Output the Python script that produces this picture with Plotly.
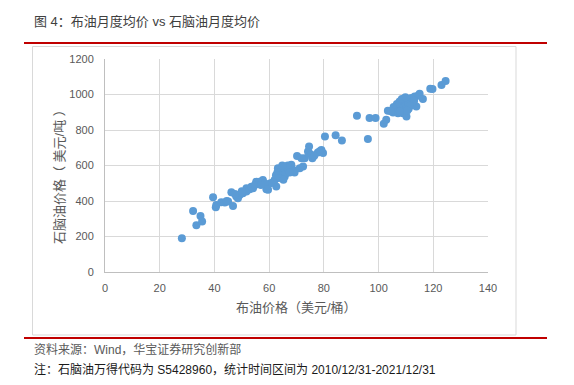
import plotly.graph_objects as go

# Brent monthly average (USD/bbl) vs naphtha monthly average (USD/t)
brent = [
    # high-price cluster (2011-2014)
    92.1, 96.7, 98.9, 96.1, 101.9, 102.8, 103.4, 105.3, 106.7, 107.1,
    107.7, 108.9, 109.5, 110.2, 108.3, 108.9, 110.2, 111.4, 112.0, 113.2,
    113.8, 114.4, 115.0, 116.2, 118.9, 119.7, 123.0, 124.5, 105.5, 106.2,
    107.5, 108.0, 109.0, 110.0, 110.8, 111.0, 112.5, 113.0, 108.5, 109.8,
    104.5, 107.8, 111.5, 110.5,
    # 80-90
    80.4, 84.3, 86.6,
    # 70-80
    70.2, 72.4, 73.0, 74.2, 74.6, 74.6, 75.4, 75.8, 77.8, 79.1,
    79.7, 71.8, 78.5, 76.5,
    # 60-70
    59.6, 62.0, 62.6, 63.2, 63.9, 65.7, 66.3, 68.1, 68.1, 68.7,
    69.3, 71.2, 63.0, 64.5, 65.0, 64.0, 66.0, 67.0, 62.5, 63.5,
    65.2, 61.5, 60.5, 66.8, 64.8, 67.5,
    # 40-60
    39.5, 40.5, 40.7, 42.5, 43.8, 45.0, 46.2, 46.8, 48.0, 48.6,
    49.2, 50.4, 51.7, 51.7, 52.9, 54.1, 55.3, 55.3, 56.5, 56.5,
    57.7, 58.4, 59.0, 53.5, 47.5, 44.5, 50.0, 54.8, 57.0,
    # below 40
    28.1, 32.2, 33.4, 34.9, 35.5,
]
naphtha = [
    880, 867, 867, 749, 835, 858, 908, 899, 946, 895,
    961, 952, 966, 974, 914, 895, 876, 961, 980, 989,
    933, 993, 1004, 974, 1032, 1031, 1053, 1076, 930, 920,
    935, 940, 930, 945, 955, 920, 950, 965, 975, 985,
    905, 905, 935, 910,
    763, 771, 741,
    654, 594, 641, 679, 707, 670, 660, 641, 673, 688,
    670, 641, 680, 655,
    463, 519, 481, 585, 557, 538, 575, 594, 604, 575,
    560, 585, 560, 570, 590, 545, 555, 580, 545, 530,
    520, 505, 500, 600, 600, 560,
    421, 365, 378, 393, 391, 397, 450, 372, 425, 416,
    434, 444, 453, 472, 466, 472, 500, 509, 500, 509,
    519, 500, 466, 480, 440, 400, 455, 490, 490,
    190, 344, 263, 316, 284,
]

x_ticks = [0, 20, 40, 60, 80, 100, 120, 140]
y_ticks = [0, 200, 400, 600, 800, 1000, 1200]

W, H = 574, 385
L, R, T, B = 105, 86, 59, 113
PW, PH = W - L - R, H - T - B


def px(x):
    return (x - L) / PW


def py(y):
    return (H - B - y) / PH


CJK = "Liberation Sans, Arial, Noto Sans CJK SC, sans-serif"

fig = go.Figure()
fig.add_trace(go.Scatter(
    x=brent, y=naphtha, mode="markers",
    marker=dict(color="#5b9bd5", size=8, line=dict(width=0)),
    hoverinfo="x+y", showlegend=False,
))

axis_common = dict(
    showgrid=True, gridcolor="#d9d9d9", gridwidth=1,
    showline=True, linecolor="#bfbfbf", linewidth=1,
    zeroline=False, ticks="",
    tickfont=dict(family=CJK, size=11, color="#595959"),
)
fig.update_xaxes(range=[0, 140], tickvals=x_ticks, ticklabelstandoff=6, **axis_common)
fig.update_yaxes(range=[0, 1200], tickvals=y_ticks, ticklabelstandoff=8, **axis_common)

fig.update_layout(
    width=W, height=H,
    margin=dict(l=L, r=R, t=T, b=B),
    paper_bgcolor="white", plot_bgcolor="white",
    font=dict(family=CJK),
)

shapes = [
    # outer chart border
    dict(type="rect", xref="paper", yref="paper",
         x0=px(32.5), x1=px(516), y0=py(46.5), y1=py(335),
         line=dict(color="#d9d9d9", width=1), layer="below"),
    # top red rule
    dict(type="line", xref="paper", yref="paper",
         x0=px(24), x1=px(547), y0=py(43), y1=py(43),
         line=dict(color="#c00000", width=2)),
    # bottom red rule
    dict(type="line", xref="paper", yref="paper",
         x0=px(24), x1=px(547), y0=py(338), y1=py(338),
         line=dict(color="#c00000", width=2)),
]
fig.update_layout(shapes=shapes)

annotations = [
    dict(text="图 4：布油月度均价 vs 石脑油月度均价", xref="paper", yref="paper",
         x=px(32), y=py(21), xanchor="left", yanchor="middle", showarrow=False,
         font=dict(family=CJK, size=13, color="#404040")),
    dict(text="布油价格（美元/桶）", xref="paper", yref="paper",
         x=px(296.5), y=py(307), xanchor="center", yanchor="middle", showarrow=False,
         font=dict(family=CJK, size=13, color="#595959")),
    dict(text="石脑油价格（ 美元/吨 ）", xref="paper", yref="paper",
         x=px(59), y=py(174), xanchor="center", yanchor="middle", showarrow=False,
         textangle=-90,
         font=dict(family=CJK, size=13, color="#595959")),
    dict(text="资料来源：Wind，华宝证券研究创新部", xref="paper", yref="paper",
         x=px(32), y=py(349), xanchor="left", yanchor="middle", showarrow=False,
         font=dict(family=CJK, size=12, color="#595959")),
    dict(text="注：石脑油万得代码为 S5428960，统计时间区间为 2010/12/31-2021/12/31",
         xref="paper", yref="paper",
         x=px(32), y=py(369), xanchor="left", yanchor="middle", showarrow=False,
         font=dict(family=CJK, size=12, color="#1a1a1a")),
]
fig.update_layout(annotations=annotations)

fig.write_html("out.html", config={"displayModeBar": False},
               post_script="document.body.style.margin='0';")
